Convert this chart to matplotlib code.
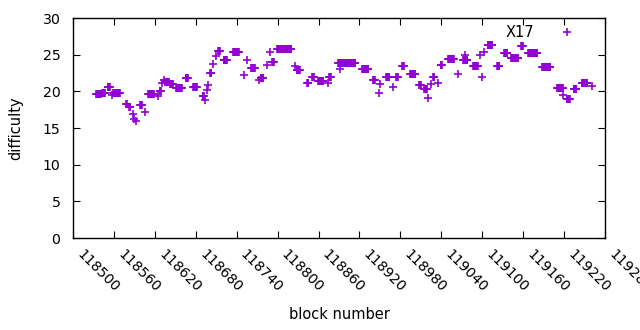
import numpy as np
import matplotlib
matplotlib.use("Agg")
import matplotlib.pyplot as plt
from matplotlib.transforms import ScaledTranslation

# stretches of blocks that share one difficulty value (first block, last block, value)
run_start = [118534, 118543, 118551, 118559, 118578, 118582, 118598, 118610, 118627,
             118635, 118642, 118651, 118665, 118676, 118690, 118701, 118713, 118721,
             118735, 118761, 118775, 118792, 118799, 118828, 118843, 118851, 118859,
             118876, 118889, 118924, 118940, 118959, 118974, 118983, 118994, 119008,
             119015, 119028, 119039, 119050, 119072, 119087, 119108, 119122, 119132,
             119142, 119157, 119167, 119188, 119210, 119224, 119234, 119246]
run_end = [118541, 118547, 118554, 118569, 118579, 118584, 118601, 118619, 118629,
           118641, 118646, 118660, 118668, 118682, 118692, 118703, 118715, 118726,
           118743, 118767, 118779, 118794, 118820, 118833, 118845, 118853, 118867,
           118878, 118914, 118933, 118943, 118964, 118976, 118985, 119002, 119010,
           119019, 119030, 119041, 119058, 119078, 119094, 119115, 119125, 119137,
           119153, 119160, 119181, 119200, 119218, 119228, 119238, 119254]
run_diff = [19.6, 19.8, 20.6, 19.8, 18.3, 17.8, 18.2, 19.6, 20.0,
            21.3, 21.0, 20.4, 21.8, 20.6, 19.3, 22.5, 25.5, 24.3,
            25.3, 23.2, 21.8, 24.0, 25.8, 22.9, 21.2, 22.0, 21.4,
            22.0, 23.9, 23.1, 21.5, 21.9, 22.0, 23.5, 22.4, 20.8,
            20.3, 22.0, 23.6, 24.4, 24.3, 23.4, 26.3, 23.4, 25.2,
            24.6, 26.2, 25.2, 23.3, 20.5, 19.0, 20.3, 21.1]

# single blocks off the stretches
lone_block = [118557, 118588, 118590, 118592, 118606, 118624, 118630, 118633, 118694,
              118696, 118698, 118705, 118710, 118751, 118755, 118773, 118784, 118789,
              118825, 118874, 118892, 118948, 118950, 118969, 119020, 119025, 119035,
              119065, 119075, 119097, 119100, 119102, 119219, 119261]
lone_diff = [19.5, 16.9, 16.2, 15.9, 17.2, 19.4, 21.2, 21.6, 18.8,
             20.2, 20.9, 23.7, 24.8, 22.2, 24.3, 21.5, 23.6, 25.4,
             23.4, 21.1, 23.0, 19.8, 21.0, 20.6, 19.1, 21.0, 21.2,
             22.3, 25.0, 25.0, 22.0, 25.4, 19.5, 20.7]

xticks = list(range(118500, 119281, 60))
yticks = list(range(0, 31, 5))

blocks = [lone_block]
diffs = [lone_diff]
for s, e, d in zip(run_start, run_end, run_diff):
    b = np.arange(s, e + 1)
    blocks.append(b)
    diffs.append(np.full(len(b), d))
blocks = np.concatenate(blocks)
diffs = np.concatenate(diffs)

fig = plt.figure(figsize=(6.4, 3.3), dpi=100)
ax = fig.add_axes([73 / 640, 1 - 238 / 330, 532 / 640, 220 / 330])

ax.plot(blocks, diffs, linestyle="none", marker="+", color="#9400D3",
        markersize=5.5, markeredgewidth=1.2, label="X17")

ax.set_xlim(118500, 119280)
ax.set_ylim(0, 30)
ax.set_xticks(xticks)
ax.set_yticks(yticks)
ax.tick_params(direction="in", top=True, right=True, length=5, labelsize=10.2,
               color="black")
ax.tick_params(axis="x", pad=10)
ax.tick_params(axis="y", pad=9)
ax.set_xticklabels([str(t) for t in xticks], rotation=-45, ha="left", va="center",
                   rotation_mode="anchor")
# nudge the slanted labels so they start just under their tick, like gnuplot
shift = ScaledTranslation(6 / 100, 0, fig.dpi_scale_trans)
for tick in ax.xaxis.get_major_ticks():
    tick.label1.set_transform(tick.label1.get_transform() + shift)
for sp in ax.spines.values():
    sp.set_linewidth(1)

ax.set_xlabel("block number", fontsize=10.5, labelpad=9)
ax.set_ylabel("difficulty", fontsize=10.5, labelpad=14)

ax.legend(loc="upper right", markerfirst=False, frameon=False, fontsize=10.5,
          handlelength=2.8, borderaxespad=0.1, bbox_to_anchor=(0.98, 1.0))

fig.savefig("out.png", dpi=100)
